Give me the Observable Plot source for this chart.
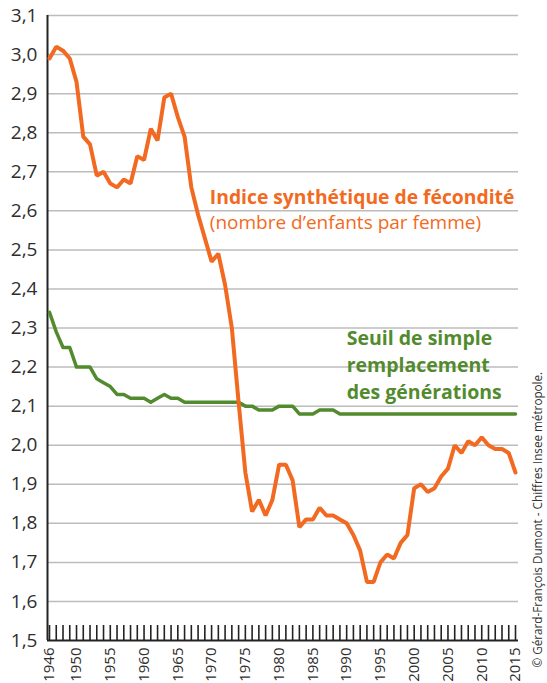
<!DOCTYPE html>
<html>
<head>
<meta charset="utf-8">
<script src="https://cdn.jsdelivr.net/npm/d3@7"></script>
<script src="https://cdn.jsdelivr.net/npm/@observablehq/plot@0.6"></script>
<style>
  html, body { margin: 0; padding: 0; background: #fff; }
  #chart { width: 547px; height: 683px; }
</style>
</head>
<body>
<div id="chart"></div>
<script>
// Years (categories)
const years = [1946,1947,1948,1949,1950,1951,1952,1953,1954,1955,1956,1957,1958,1959,
  1960,1961,1962,1963,1964,1965,1966,1967,1968,1969,1970,1971,1972,1973,1974,1975,
  1976,1977,1978,1979,1980,1981,1982,1983,1984,1985,1986,1987,1988,1989,1990,1991,
  1992,1993,1994,1995,1996,1997,1998,1999,2000,2001,2002,2003,2004,2005,2006,2007,
  2008,2009,2010,2011,2012,2013,2014,2015];

// Indice synthétique de fécondité (enfants par femme)
const isf = [2.99,3.02,3.01,2.99,2.93,2.79,2.77,2.69,2.70,2.67,2.66,2.68,2.67,2.74,
  2.73,2.81,2.78,2.89,2.90,2.84,2.79,2.66,2.59,2.53,2.47,2.49,2.41,2.30,2.11,1.93,
  1.83,1.86,1.82,1.86,1.95,1.95,1.91,1.79,1.81,1.81,1.84,1.82,1.82,1.81,1.80,1.77,
  1.73,1.65,1.65,1.70,1.72,1.71,1.75,1.77,1.89,1.90,1.88,1.89,1.92,1.94,2.00,1.98,
  2.01,2.00,2.02,2.00,1.99,1.99,1.98,1.93];

// Seuil de simple remplacement des générations
const seuil = [2.34,2.29,2.25,2.25,2.20,2.20,2.20,2.17,2.16,2.15,2.13,2.13,2.12,2.12,
  2.12,2.11,2.12,2.13,2.12,2.12,2.11,2.11,2.11,2.11,2.11,2.11,2.11,2.11,2.11,2.10,
  2.10,2.09,2.09,2.09,2.10,2.10,2.10,2.08,2.08,2.08,2.09,2.09,2.09,2.08,2.08,2.08,
  2.08,2.08,2.08,2.08,2.08,2.08,2.08,2.08,2.08,2.08,2.08,2.08,2.08,2.08,2.08,2.08,
  2.08,2.08,2.08,2.08,2.08,2.08,2.08,2.08];

// Tick labels
const yTicks = [1.5,1.6,1.7,1.8,1.9,2.0,2.1,2.2,2.3,2.4,2.5,2.6,2.7,2.8,2.9,3.0,3.1];
const xLabels = [1946,1950,1955,1960,1965,1970,1975,1980,1985,1990,1995,2000,2005,2010,2015];

// Texts
const isfTitle = ["Indice synthétique de fécondité"];
const isfSub = ["(nombre d’enfants par femme)"];
const seuilLabel = ["Seuil de simple\nremplacement\ndes générations"];
const credit = ["© Gérard-François Dumont - Chiffres Insee métropole."];

const orange = "#f26a22";
const green = "#528b2e";

const rows = years.map((year, i) => ({year, isf: isf[i], seuil: seuil[i]}));
const fmt = d => d.toFixed(1).replace(".", ",");

const chart = Plot.plot({
  width: 547,
  height: 683,
  marginLeft: 47,
  marginRight: 29,
  marginTop: 15,
  marginBottom: 43,
  style: {fontFamily: "'Open Sans', sans-serif", background: "#fff", color: "#2e2e2e"},
  x: {domain: [1946, 2015], insetLeft: 2, insetRight: 3},
  y: {domain: [1.5, 3.1]},
  marks: [
    Plot.ruleY(yTicks.slice(1), {stroke: "#bcbcbc", strokeWidth: 1.5}),
    Plot.ruleX(years, {stroke: "#222", strokeWidth: 1.6, insetTop: 610}),
    Plot.ruleY([yTicks[0]], {stroke: "#222", strokeWidth: 2}),
    Plot.ruleX([years[0]], {dx: -2, stroke: "#222", strokeWidth: 2}),
    Plot.axisY({ticks: yTicks, tickSize: 0, tickPadding: 10, tickFormat: fmt, fontSize: 19, label: null}),
    Plot.axisX({ticks: xLabels, tickSize: 0, tickPadding: 7, tickRotate: -90, tickFormat: d => String(d), fontSize: 15, label: null}),
    Plot.line(rows, {x: "year", y: "seuil", stroke: green, strokeWidth: 3.5}),
    Plot.line(rows, {x: "year", y: "isf", stroke: orange, strokeWidth: 4, strokeLinejoin: "miter"}),
    Plot.text(isfTitle, {text: d => d, x: 1969.74, y: 2.618, textAnchor: "start", lineAnchor: "bottom",
      fill: orange, fontSize: 19.3, fontWeight: "bold"}),
    Plot.text(isfSub, {text: d => d, x: 1969.74, y: 2.554, textAnchor: "start", lineAnchor: "bottom",
      fill: orange, fontSize: 19}),
    Plot.text(seuilLabel, {text: d => d, x: 1990, y: 2.119, textAnchor: "start", lineAnchor: "bottom",
      lineHeight: 1.365, fill: green, fontSize: 19.5, fontWeight: "bold"}),
    Plot.text(credit, {text: d => d, frameAnchor: "bottom-right", rotate: -90, textAnchor: "start",
      lineAnchor: "bottom", dx: 23, dy: 27, fontSize: 11.7, fill: "#333"})
  ]
});

document.getElementById("chart").appendChild(chart);
</script>
</body>
</html>
